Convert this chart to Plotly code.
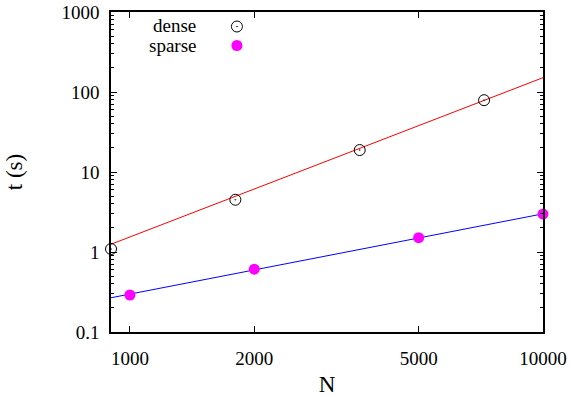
import plotly.graph_objects as go

# Data
dense_N = [900, 1800, 3600, 7200]
dense_t = [1.09, 4.5, 18.8, 79]
sparse_N = [1000, 2000, 5000, 10000]
sparse_t = [0.29, 0.61, 1.51, 2.98]

# fitted power-law lines (endpoints)
fit_N = [900, 10000]
dense_fit = [1.25, 151]
sparse_fit = [0.268, 3.0]

x_ticks = [1000, 2000, 5000, 10000]
x_ticklabels = ["1000", "2000", "5000", "10000"]
y_ticks = [0.1, 1, 10, 100, 1000]
y_ticklabels = ["0.1", "1", "10", "100", "1000"]
y_minor = [m * 10 ** e for e in range(-1, 3) for m in range(2, 10)]

FONT = "Liberation Serif, Times New Roman, serif"
FS = 19

fig = go.Figure()
fig.add_trace(go.Scatter(x=fit_N, y=dense_fit, mode="lines",
                         line=dict(color="#ff0000", width=1), showlegend=False))
fig.add_trace(go.Scatter(x=fit_N, y=sparse_fit, mode="lines",
                         line=dict(color="#0000ff", width=1), showlegend=False))
fig.add_trace(go.Scatter(x=dense_N, y=dense_t, mode="markers", name=" ", cliponaxis=False,
                         marker=dict(symbol="circle-open-dot", size=11,
                                     color="black", line=dict(width=1, color="black"))))
fig.add_trace(go.Scatter(x=sparse_N, y=sparse_t, mode="markers", name=" ", cliponaxis=False,
                         marker=dict(symbol="circle", size=11, color="#ff00ff",
                                     line=dict(width=0))))

fig.add_annotation(text="dense", xref="paper", yref="paper",
                   x=(198 - 111) / 432.3, y=(332 - 25) / 320,
                   xanchor="right", yanchor="middle", showarrow=False,
                   font=dict(family=FONT, size=FS, color="black"))
fig.add_annotation(text="sparse", xref="paper", yref="paper",
                   x=(198 - 111) / 432.3, y=(332 - 45) / 320,
                   xanchor="right", yanchor="middle", showarrow=False,
                   font=dict(family=FONT, size=FS, color="black"))

fig.update_layout(
    width=572, height=397,
    margin=dict(l=111, r=29, t=12, b=65, autoexpand=False),
    paper_bgcolor="white", plot_bgcolor="white",
    font=dict(family=FONT, size=FS, color="black"),
    legend=dict(x=(217 - 111) / 432.3, y=(332 - 12) / 320, xanchor="left", yanchor="top",
                bgcolor="rgba(0,0,0,0)", font=dict(size=12), tracegroupgap=0,
                itemwidth=30),
)
fig.update_xaxes(
    type="log", range=[2.9542, 4.0], automargin=False,
    tickvals=x_ticks, ticktext=x_ticklabels,
    ticks="inside", ticklen=6, tickwidth=1, tickcolor="black",
    showline=True, linecolor="black", linewidth=1.5, mirror="allticks",
    showgrid=False, zeroline=False,
    title=dict(text="N", standoff=14),
    ticklabelstandoff=8,
)
fig.update_yaxes(
    type="log", range=[-1, 3], automargin=False,
    tickvals=y_ticks, ticktext=y_ticklabels,
    ticks="inside", ticklen=6, tickwidth=1, tickcolor="black",
    showline=True, linecolor="black", linewidth=1.5, mirror="allticks",
    showgrid=False, zeroline=False,
    minor=dict(tickvals=y_minor, ticks="inside", ticklen=3, tickwidth=1,
               tickcolor="black", showgrid=False),
    title=dict(text="t (s)", standoff=32),
    ticklabelstandoff=6,
)
fig.write_html("out.html", config={"displayModeBar": False},
               post_script="document.body.style.margin='0';document.body.style.overflow='hidden';")
